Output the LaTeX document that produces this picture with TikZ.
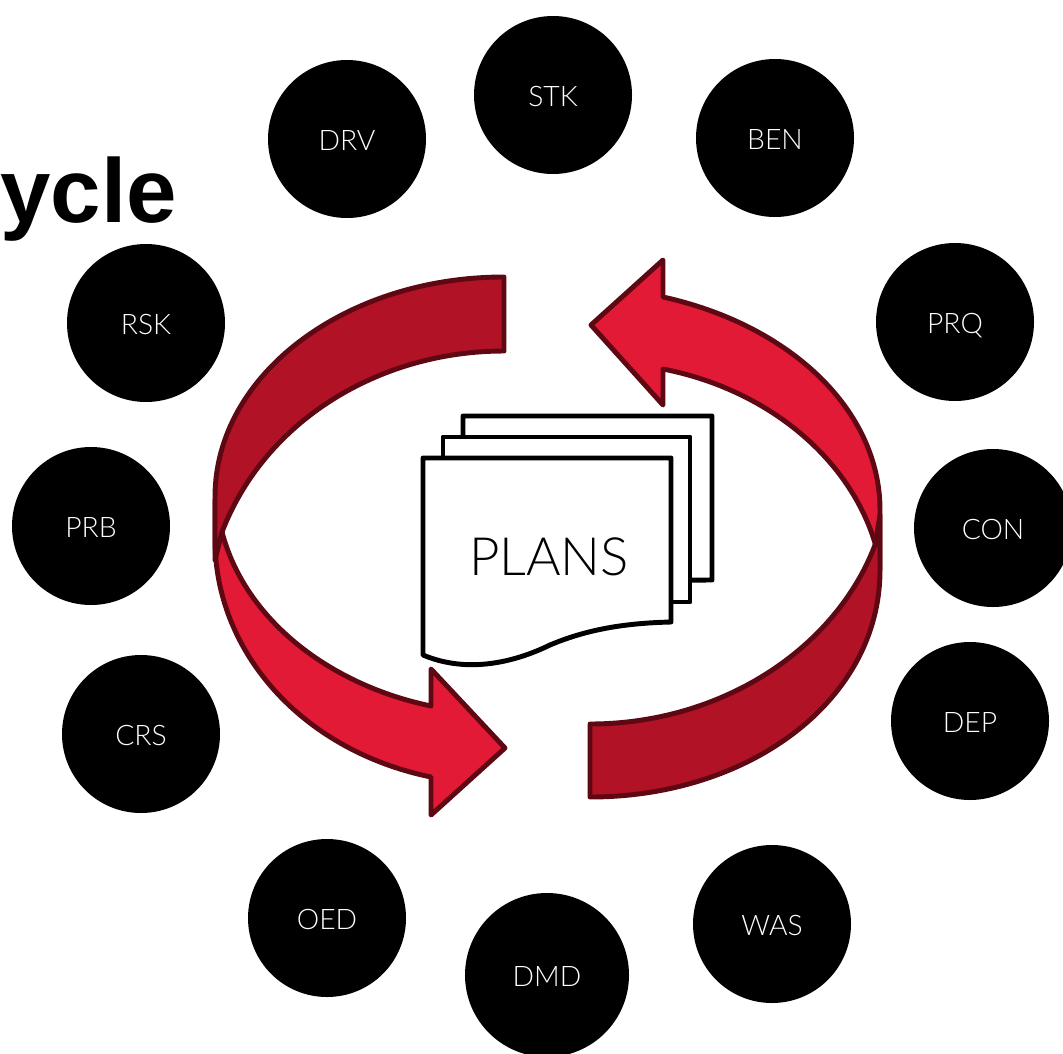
\documentclass[tikz,border=0pt]{standalone}
\usepackage{fontspec}
\setmainfont{Lato Light}
\newfontfamily\titlefont{Liberation Sans}
\definecolor{brightred}{HTML}{E21A35}
\definecolor{darkred}{HTML}{B11226}
\definecolor{edgered}{HTML}{5E0813}
\tikzset{
  hub/.style={circle,fill=black,text=white,inner sep=0pt,minimum size=118.5pt,text height=16.8pt,text depth=0pt,font=\fontsize{21.2pt}{24pt}\selectfont},
  band/.style={draw=edgered,line width=3.7pt,line join=round},
  sheet/.style={draw=black,fill=white,line width=3.7pt,line join=round},
}
\begin{document}
\begin{tikzpicture}[x=0.75pt,y=-0.75pt]
\useasboundingbox (0,0) rectangle (1063,1053);
\clip (0,0) rectangle (1063,1053);
\node[anchor=base west,inner sep=0pt,font=\titlefont\bfseries\fontsize{68pt}{74pt}\selectfont] (title) at (0,222) {ycle};
\node[hub] (drv) at (347,139) {DRV};
\node[hub] (stk) at (553,95) {STK};
\node[hub] (ben) at (775,138) {BEN};
\node[hub] (prq) at (955,322) {PRQ};
\node[hub] (con) at (993,528) {CON};
\node[hub] (dep) at (970,721) {DEP};
\node[hub] (was) at (772,924) {WAS};
\node[hub,minimum size=123pt] (dmd) at (547,975) {DMD};
\node[hub] (oed) at (327,918) {OED};
\node[hub] (crs) at (141,734) {CRS};
\node[hub] (prb) at (91,526) {PRB};
\node[hub] (rsk) at (146,323) {RSK};
% lower-left arrow
\draw[band,fill=brightred] (215,500) -- (215,540) .. controls (215,650) and (300,750) .. (431,777)
  -- (431,815) -- (505,748) -- (431,669) -- (431,706)
  .. controls (330,685) and (245,620) .. (222,532) -- cycle;
% upper-right arrow
\draw[band,fill=brightred] (880,570) -- (880,510) .. controls (880,410) and (790,325) .. (663,297)
  -- (663,260) -- (591,325) -- (663,405) -- (663,369)
  .. controls (770,390) and (850,460) .. (875,543) -- cycle;
% upper-left band
\draw[band,fill=darkred] (504,277) .. controls (345,277) and (215,375) .. (215,497) -- (215,560)
  -- (222,532) .. controls (265,420) and (380,351) .. (504,351) -- cycle;
% lower-right band
\draw[band,fill=darkred] (590,797) .. controls (750,797) and (880,700) .. (880,570) -- (880,515)
  -- (875,545) .. controls (835,650) and (720,724) .. (590,724) -- cycle;
% plans
\draw[sheet] (463,581) -- (463,416) -- (712,416) -- (712,580) -- cycle;
\draw[sheet] (443,602) -- (443,437) -- (690,437) -- (690,602) -- cycle;
\draw[sheet] (423,655) -- (423,458) -- (671,458) -- (671,622)
  .. controls (630,623) and (590,628) .. (550,645)
  .. controls (515,662) and (468,674) .. (423,655) -- cycle;
\node[inner sep=0pt,font=\fontsize{39.6pt}{42pt}\selectfont] (plans) at (549,557) {PLANS};
\end{tikzpicture}
\end{document}
